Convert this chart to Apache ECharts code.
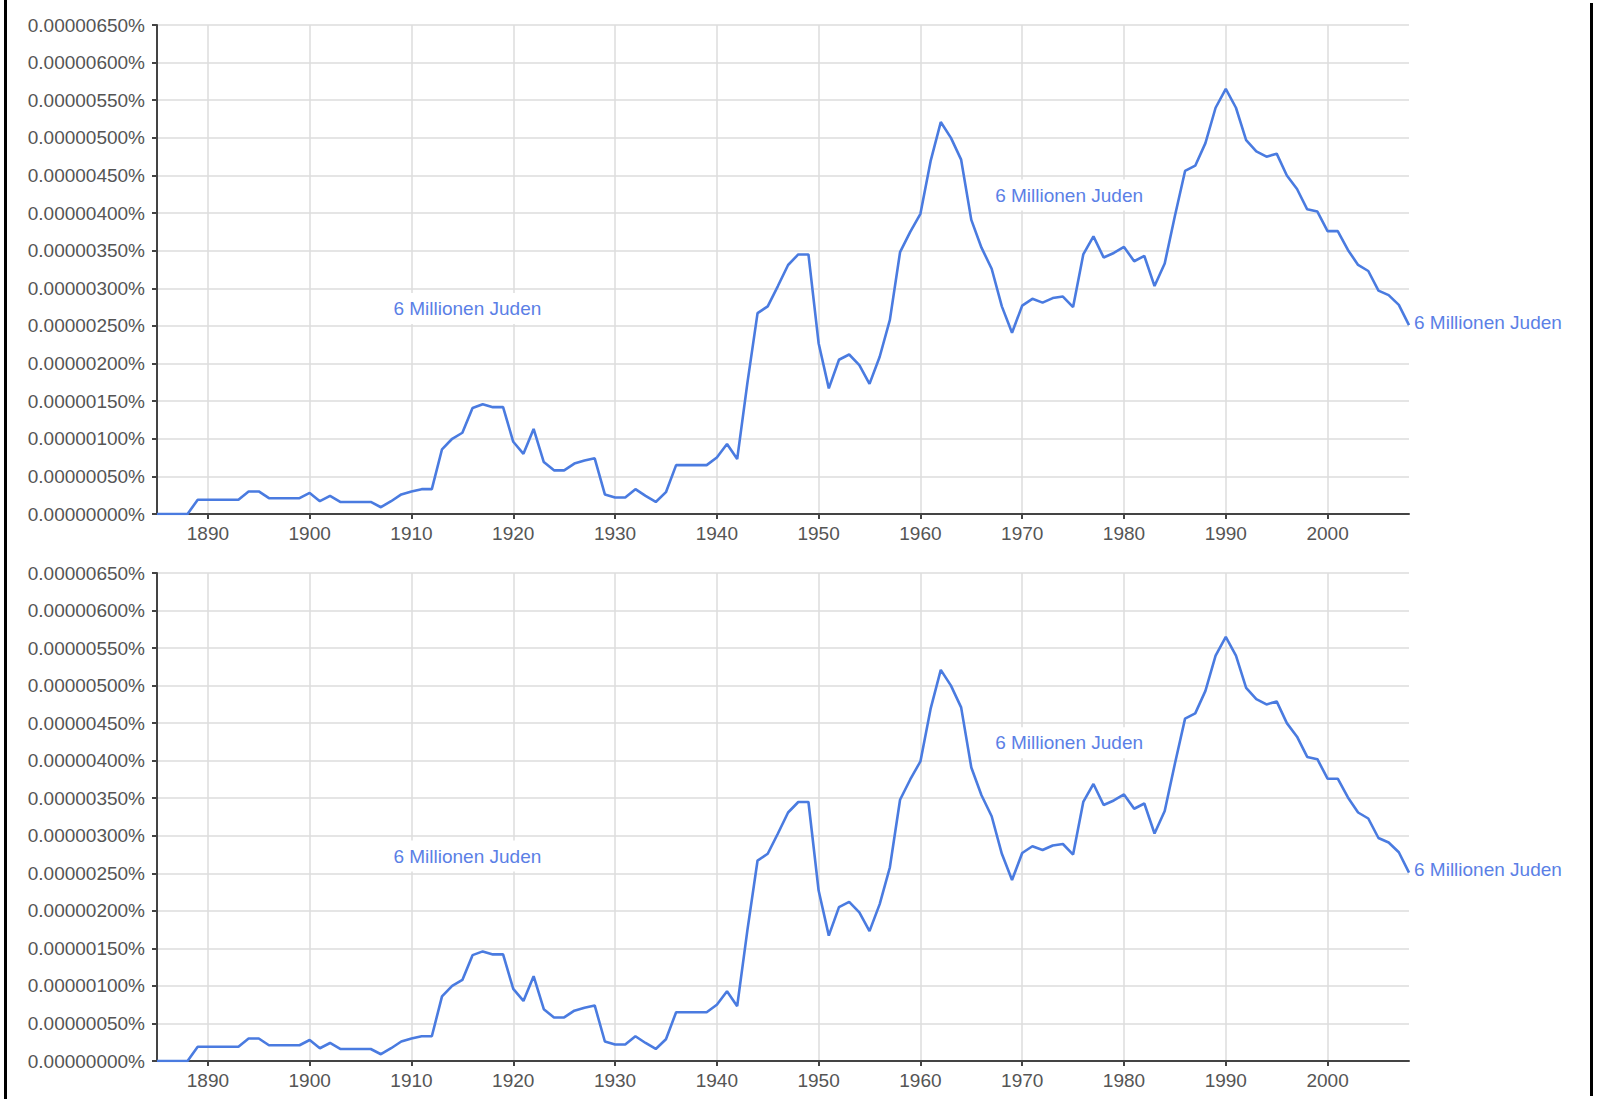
<!DOCTYPE html>
<html>
<head>
<meta charset="utf-8">
<title>6 Millionen Juden</title>
<script src="https://cdn.jsdelivr.net/npm/echarts@6/dist/echarts.min.js"></script>
<style>
  html, body { margin: 0; padding: 0; background: #fff; }
  #chart { width: 1598px; height: 1099px; }
  .edge { position: absolute; background: #000; }
</style>
</head>
<body>
<div id="chart"></div>
<div class="edge" style="left:4px; top:0; width:3px; height:1099px;"></div>
<div class="edge" style="left:1590px; top:3px; width:3px; height:1093px;"></div>
<script>
// Jahre 1885..2008 (Kategorien der x-Achse)
const years = [];
for (let y = 1885; y <= 2008; y++) years.push(String(y));

// Häufigkeit in Einheiten von 0.00000001 %
const freq = [
  0, 0, 0, 0, 19,                                   // 1885-1889
  19, 19, 19, 19, 30, 30, 21, 21, 21, 21,           // 1890er
  28, 17, 24, 16, 16, 16, 16, 9, 17, 26,            // 1900er
  30, 33, 33, 86, 100, 108, 141, 146, 142, 142,     // 1910er
  96, 80, 113, 69, 58, 58, 67, 71, 74, 26,          // 1920er
  22, 22, 33, 24, 16, 29, 65, 65, 65, 65,           // 1930er
  75, 93, 73, 174, 267, 276, 303, 331, 345, 345,    // 1940er
  227, 167, 205, 212, 198, 173, 209, 258, 348, 375, // 1950er
  399, 469, 521, 500, 471, 391, 354, 326, 276, 241, // 1960er
  277, 286, 281, 287, 289, 275, 345, 369, 341, 347, // 1970er
  355, 336, 343, 303, 333, 396, 456, 463, 493, 540, // 1980er
  565, 540, 497, 482, 475, 479, 450, 432, 405, 402, // 1990er
  376, 376, 351, 331, 323, 297, 291, 278, 251       // 2000-2008
];

const seriesName = "6 Millionen Juden";
// Beschriftungen im Plot: [Jahr, Wert]
const labelSpots = [["1915", 273], ["1975", 424]];
const labelOffsets = [[5, 0], [-4, 0]];

const FONT = "Liberation Sans, Arial, sans-serif";
const FS = 19;
const LINE = "#4a7be0";
const LABEL = "#5b7fe6";
const TEXT = "#555";

const decade = (idx, val) => Number(val) % 10 === 0;

function gridAxes(i) {
  return {
    x: {
      type: "category",
      gridIndex: i,
      data: years,
      boundaryGap: false,
      axisLine: { lineStyle: { color: "#444", width: 2 } },
      axisTick: { show: true, interval: decade, length: 5, lineStyle: { color: "#444", width: 2 } },
      axisLabel: { interval: decade, color: TEXT, fontFamily: FONT, fontSize: FS, margin: 10 },
      splitLine: { show: true, interval: decade, lineStyle: { color: "#dcdcdc", width: 1.5 } },
    },
    y: {
      type: "value",
      gridIndex: i,
      min: 0,
      max: 650,
      interval: 50,
      axisLine: { show: true, lineStyle: { color: "#444", width: 2 } },
      axisTick: { show: true, length: 5, lineStyle: { color: "#444", width: 2 } },
      axisLabel: {
        color: TEXT,
        fontFamily: FONT,
        fontSize: FS,
        margin: 12,
        formatter: (v) => (v * 1e-8).toFixed(8) + "%",
      },
      splitLine: { show: true, lineStyle: { color: "#dcdcdc", width: 1.5 } },
    },
  };
}

function lineSeries(i) {
  return {
    name: seriesName,
    type: "line",
    xAxisIndex: i,
    yAxisIndex: i,
    data: freq,
    showSymbol: false,
    silent: true,
    lineStyle: { color: LINE, width: 2.6 },
    itemStyle: { color: LINE },
    endLabel: {
      show: true,
      formatter: seriesName,
      color: LABEL,
      fontFamily: FONT,
      fontSize: FS,
      distance: 5,
      offset: [0, -3],
    },
    markPoint: {
      silent: true,
      symbol: "circle",
      symbolSize: 1,
      itemStyle: { color: "rgba(0,0,0,0)" },
      label: {
        show: true,
        position: "inside",
        formatter: seriesName,
        color: LABEL,
        fontFamily: FONT,
        fontSize: FS,
        backgroundColor: "#fff",
        padding: [6, 4],
      },
      data: labelSpots.map((c, k) => ({
        coord: c,
        label: { offset: labelOffsets[k] },
      })),
    },
  };
}

const chart = echarts.init(document.getElementById("chart"), null, { renderer: "svg" });
const a0 = gridAxes(0), a1 = gridAxes(1);
chart.setOption({
  animation: false,
  grid: [
    { left: 157, width: 1252, top: 25, height: 489 },
    { left: 157, width: 1252, top: 573, height: 488 },
  ],
  xAxis: [a0.x, a1.x],
  yAxis: [a0.y, a1.y],
  series: [lineSeries(0), lineSeries(1)],
});
</script>
</body>
</html>
